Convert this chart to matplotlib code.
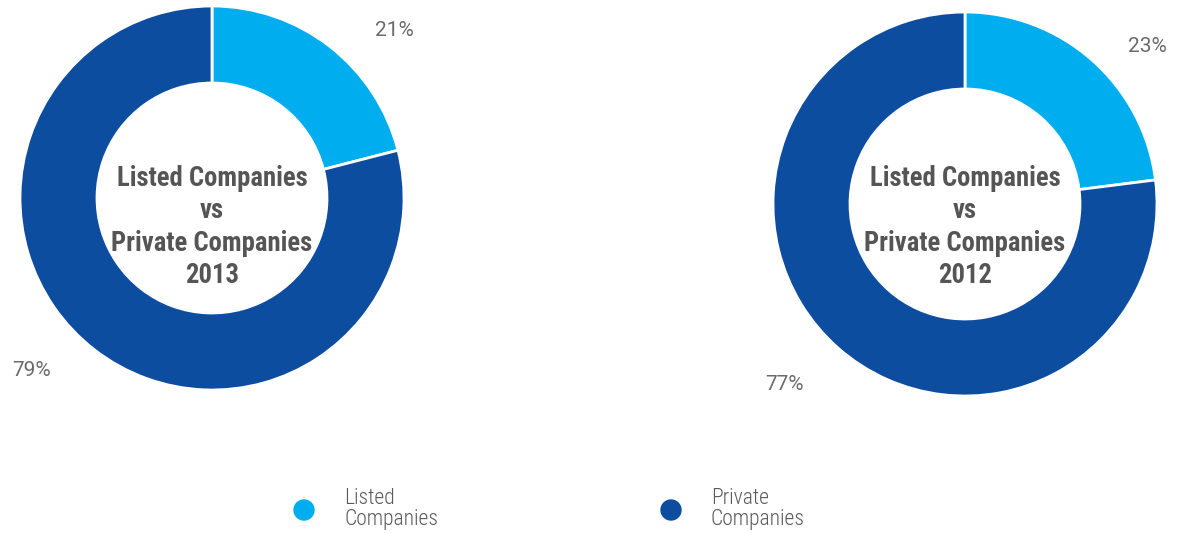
import matplotlib.pyplot as plt
from matplotlib.patches import Circle

# Share of listed vs private companies per year
years = ["2013", "2012"]
listed_share = [21, 23]
private_share = [79, 77]
categories = ["Listed\nCompanies", "Private\nCompanies"]

colors = ["#00AEEF", "#0D4DA0"]
label_color = "#666666"
center_color = "#555555"

W, H = 1178, 534
fig = plt.figure(figsize=(W / 100, H / 100), dpi=100)
ax = fig.add_axes([0, 0, 1, 1])

centers = [(212, 336), (965, 330)]
radius = 192
ring_width = 77

# where the percentage labels sit, relative to each donut centre
label_offsets = [
    [(182, 168), (-180, -172)],
    [(182, 158), (-180, -181)],
]

for i, year in enumerate(years):
    cx, cy = centers[i]
    values = [listed_share[i], private_share[i]]

    ax.pie(
        values,
        colors=colors,
        startangle=90,
        counterclock=False,
        center=(cx, cy),
        radius=radius,
        wedgeprops=dict(width=ring_width, edgecolor="white", linewidth=2),
        frame=True,
    )

    for value, (dx, dy) in zip(values, label_offsets[i]):
        ax.text(
            cx + dx, cy + dy,
            f"{value}%",
            ha="center", va="center",
            fontsize=15, color="#6a6a6a",
            family=["Roboto", "DejaVu Sans"], fontweight="normal",
        )

    ax.text(
        cx, H - 227,
        f"Listed Companies\nvs\nPrivate Companies\n{year}",
        ha="center", va="center",
        fontsize=19.2, color=center_color, fontweight="bold",
        family=["Roboto Condensed", "Roboto", "DejaVu Sans"],
        linespacing=1.25,
    )

# legend dots and labels
legend_x = [304, 671]
for x, color, name in zip(legend_x, colors, categories):
    ax.add_patch(Circle((x, H - 510), 10, color=color))
    ax.text(
        x + 40, H - 509,
        name,
        ha="left", va="center",
        fontsize=15.5, color="#5a5a5a",
        family=["Roboto Condensed", "Roboto", "DejaVu Sans"],
        fontweight="light",
        linespacing=1.0,
    )

ax.set_xlim(0, W)
ax.set_ylim(0, H)
ax.set_aspect("equal")
ax.axis("off")

fig.savefig("out.png", dpi=100, facecolor="white")
plt.close(fig)
